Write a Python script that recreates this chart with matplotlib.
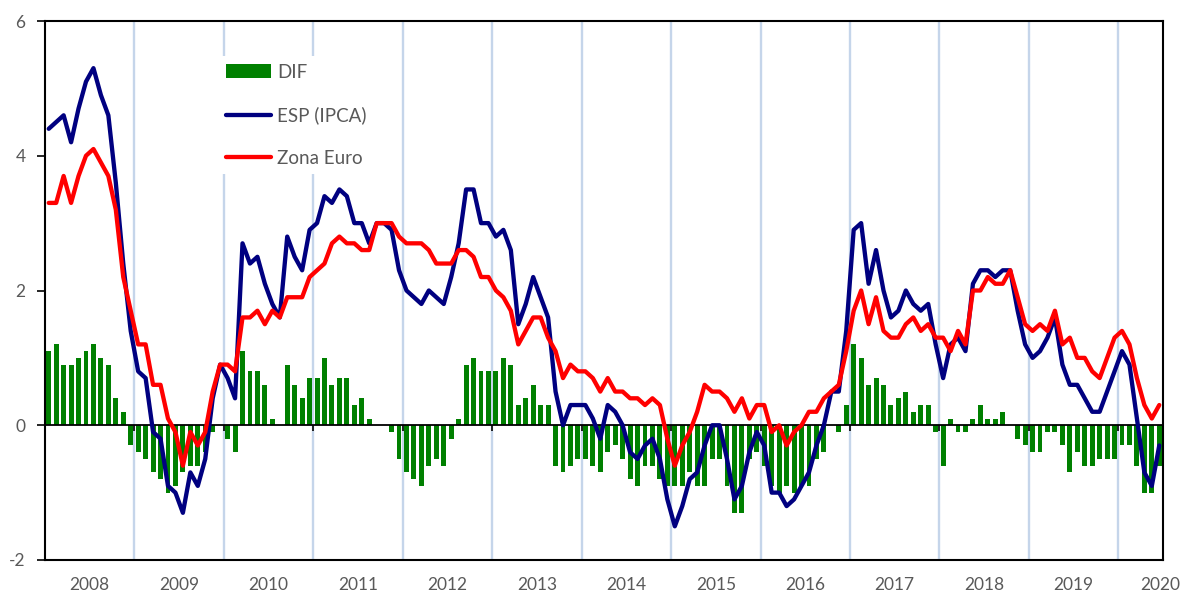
import matplotlib
matplotlib.use('Agg')
import matplotlib.pyplot as plt
import numpy as np

plt.rcParams['font.family'] = ['Lato', 'DejaVu Sans']

years = list(range(2008, 2021))

esp = [4.4, 4.5, 4.6, 4.2, 4.7, 5.1, 5.3, 4.9, 4.6, 3.6, 2.4, 1.4,
       0.8, 0.7, -0.1, -0.2, -0.9, -1.0, -1.3, -0.7, -0.9, -0.5, 0.4, 0.9,
       0.7, 0.4, 2.7, 2.4, 2.5, 2.1, 1.8, 1.6, 2.8, 2.5, 2.3, 2.9,
       3.0, 3.4, 3.3, 3.5, 3.4, 3.0, 3.0, 2.7, 3.0, 3.0, 2.9, 2.3,
       2.0, 1.9, 1.8, 2.0, 1.9, 1.8, 2.2, 2.7, 3.5, 3.5, 3.0, 3.0,
       2.8, 2.9, 2.6, 1.5, 1.8, 2.2, 1.9, 1.6, 0.5, 0.0, 0.3, 0.3,
       0.3, 0.1, -0.2, 0.3, 0.2, 0.0, -0.4, -0.5, -0.3, -0.2, -0.5, -1.1,
       -1.5, -1.2, -0.8, -0.7, -0.3, 0.0, 0.0, -0.5, -1.1, -0.9, -0.4, -0.1,
       -0.3, -1.0, -1.0, -1.2, -1.1, -0.9, -0.7, -0.3, 0.0, 0.5, 0.5, 1.4,
       2.9, 3.0, 2.1, 2.6, 2.0, 1.6, 1.7, 2.0, 1.8, 1.7, 1.8, 1.2,
       0.7, 1.2, 1.3, 1.1, 2.1, 2.3, 2.3, 2.2, 2.3, 2.3, 1.7, 1.2,
       1.0, 1.1, 1.3, 1.6, 0.9, 0.6, 0.6, 0.4, 0.2, 0.2, 0.5, 0.8,
       1.1, 0.9, 0.1, -0.7, -0.9, -0.3]

zona_euro = [3.3, 3.3, 3.7, 3.3, 3.7, 4.0, 4.1, 3.9, 3.7, 3.2, 2.2, 1.7,
             1.2, 1.2, 0.6, 0.6, 0.1, -0.1, -0.6, -0.1, -0.3, -0.1, 0.5, 0.9,
             0.9, 0.8, 1.6, 1.6, 1.7, 1.5, 1.7, 1.6, 1.9, 1.9, 1.9, 2.2,
             2.3, 2.4, 2.7, 2.8, 2.7, 2.7, 2.6, 2.6, 3.0, 3.0, 3.0, 2.8,
             2.7, 2.7, 2.7, 2.6, 2.4, 2.4, 2.4, 2.6, 2.6, 2.5, 2.2, 2.2,
             2.0, 1.9, 1.7, 1.2, 1.4, 1.6, 1.6, 1.3, 1.1, 0.7, 0.9, 0.8,
             0.8, 0.7, 0.5, 0.7, 0.5, 0.5, 0.4, 0.4, 0.3, 0.4, 0.3, -0.2,
             -0.6, -0.3, -0.1, 0.2, 0.6, 0.5, 0.5, 0.4, 0.2, 0.4, 0.1, 0.3,
             0.3, -0.1, 0.0, -0.3, -0.1, 0.0, 0.2, 0.2, 0.4, 0.5, 0.6, 1.1,
             1.7, 2.0, 1.5, 1.9, 1.4, 1.3, 1.3, 1.5, 1.6, 1.4, 1.5, 1.3,
             1.3, 1.1, 1.4, 1.2, 2.0, 2.0, 2.2, 2.1, 2.1, 2.3, 1.9, 1.5,
             1.4, 1.5, 1.4, 1.7, 1.2, 1.3, 1.0, 1.0, 0.8, 0.7, 1.0, 1.3,
             1.4, 1.2, 0.7, 0.3, 0.1, 0.3]

dif = [1.1, 1.2, 0.9, 0.9, 1.0, 1.1, 1.2, 1.0, 0.9, 0.4, 0.2, -0.3,
       -0.4, -0.5, -0.7, -0.8, -1.0, -0.9, -0.7, -0.6, -0.6, -0.4, -0.1, 0.0,
       -0.2, -0.4, 1.1, 0.8, 0.8, 0.6, 0.1, 0.0, 0.9, 0.6, 0.4, 0.7,
       0.7, 1.0, 0.6, 0.7, 0.7, 0.3, 0.4, 0.1, 0.0, 0.0, -0.1, -0.5,
       -0.7, -0.8, -0.9, -0.6, -0.5, -0.6, -0.2, 0.1, 0.9, 1.0, 0.8, 0.8,
       0.8, 1.0, 0.9, 0.3, 0.4, 0.6, 0.3, 0.3, -0.6, -0.7, -0.6, -0.5,
       -0.5, -0.6, -0.7, -0.4, -0.3, -0.5, -0.8, -0.9, -0.6, -0.6, -0.8, -0.9,
       -0.9, -0.9, -0.7, -0.9, -0.9, -0.5, -0.5, -0.9, -1.3, -1.3, -0.5, -0.4,
       -0.6, -0.9, -1.0, -0.9, -1.0, -0.9, -0.9, -0.5, -0.4, 0.0, -0.1, 0.3,
       1.2, 1.0, 0.6, 0.7, 0.6, 0.3, 0.4, 0.5, 0.2, 0.3, 0.3, -0.1,
       -0.6, 0.1, -0.1, -0.1, 0.1, 0.3, 0.1, 0.1, 0.2, 0.0, -0.2, -0.3,
       -0.4, -0.4, -0.1, -0.1, -0.3, -0.7, -0.4, -0.6, -0.6, -0.5, -0.5, -0.5,
       -0.3, -0.3, -0.6, -1.0, -1.0, -0.6]

n = len(esp)
x = np.arange(n)
W, H = 1181, 596

fig = plt.figure(figsize=(W / 100, H / 100), dpi=100)
ax = fig.add_axes([45 / W, 36 / H, 1118 / W, 539 / H])
ax.set_xlim(-0.5, n - 0.5)
ax.set_ylim(-2, 6)

boundaries = [12 * k - 0.5 for k in range(1, len(years))]
for b in boundaries:
    ax.axvline(b, color='#c5d5ea', lw=1.7, zorder=0)

bars = ax.bar(x, dif, width=0.66, color='#008000', zorder=2, label='DIF')
ax.axhline(0, color='black', lw=1.3, zorder=3)
ax.vlines(boundaries, -0.09, 0, color='black', lw=1.2, zorder=1)

l1, = ax.plot(x, esp, color='#000080', lw=3.1, zorder=4, label='ESP (IPCA)',
              solid_joinstyle='round', solid_capstyle='round')
l2, = ax.plot(x, zona_euro, color='#ff0000', lw=3.1, zorder=5, label='Zona Euro',
              solid_joinstyle='round', solid_capstyle='round')

ax.set_yticks([-2, 0, 2, 4, 6])
ax.set_yticklabels(['-2', '0', '2', '4', '6'])
ax.tick_params(axis='y', length=6, width=1.2, colors='black', labelcolor='#595959',
               labelsize=12.5, pad=8)

xt = [12 * k + 5.5 for k in range(len(years))]
xt[-1] = n - 0.9
ax.set_xticks(xt)
ax.set_xticklabels([str(y) for y in years])
ax.tick_params(axis='x', length=0, labelcolor='#595959', labelsize=12.5, pad=12)

for s in ax.spines.values():
    s.set_color('black')
    s.set_linewidth(1.5)

leg = ax.legend(handles=[bars, l1, l2], loc='upper left',
                bbox_to_anchor=(218 / W, 1 - 56 / H), bbox_transform=fig.transFigure,
                borderaxespad=0, frameon=True, facecolor='white', edgecolor='none',
                framealpha=1, fontsize=13.5, handlelength=2.45, handletextpad=0.3,
                labelspacing=1.37, borderpad=0.4)
for t in leg.get_texts():
    t.set_color('#595959')
leg.set_zorder(6)

fig.savefig('out.png', dpi=100)
